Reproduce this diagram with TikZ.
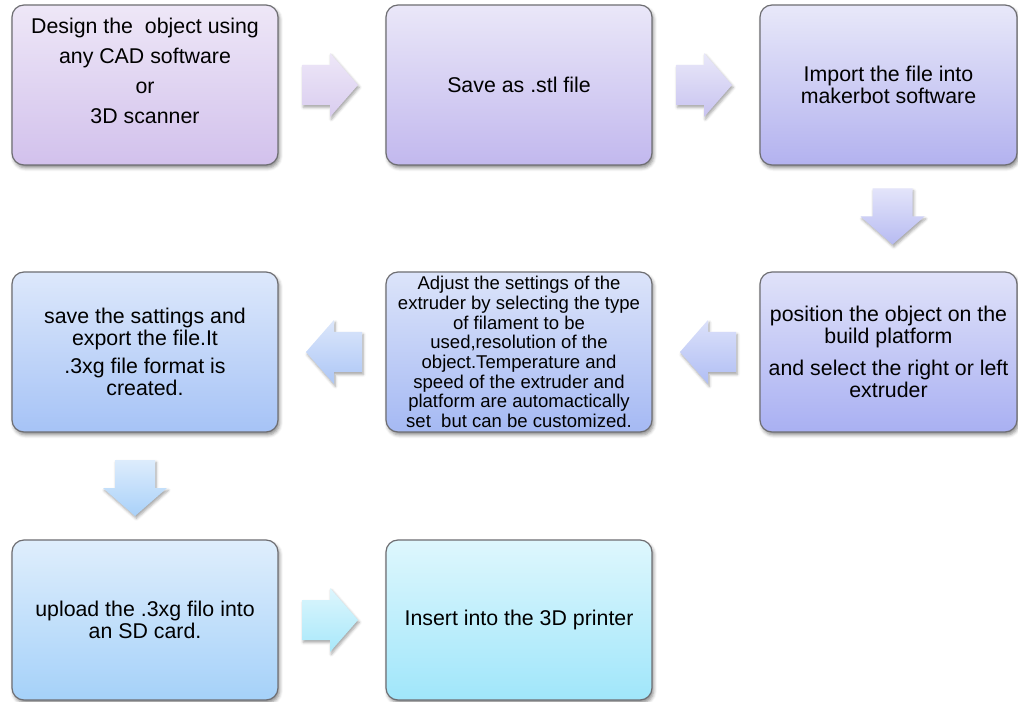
\documentclass[tikz,border=0pt]{standalone}
\usepackage{fontspec}
\setmainfont{Liberation Sans}
\usetikzlibrary{shadows.blur,calc}
\definecolor{boxline}{HTML}{6E6E72}
\definecolor{c1t}{HTML}{EEE7F7}\definecolor{c1b}{HTML}{D2C1EC}
\definecolor{c2t}{HTML}{EAE7F8}\definecolor{c2b}{HTML}{C2B8EE}
\definecolor{c3t}{HTML}{E8E8F9}\definecolor{c3b}{HTML}{B3B2EF}
\definecolor{c6t}{HTML}{E0E2F9}\definecolor{c6b}{HTML}{A9B0F2}
\definecolor{c5t}{HTML}{DCE4FA}\definecolor{c5b}{HTML}{A5B9F3}
\definecolor{c4t}{HTML}{DDE8FB}\definecolor{c4b}{HTML}{A6C3F6}
\definecolor{c7t}{HTML}{DFEEFC}\definecolor{c7b}{HTML}{A5D1F9}
\definecolor{c8t}{HTML}{DEF7FD}\definecolor{c8b}{HTML}{A0E6FA}
\definecolor{a1t}{HTML}{EEE7F8}\definecolor{a1b}{HTML}{D9CDEF}
\definecolor{a2t}{HTML}{E9E8F9}\definecolor{a2b}{HTML}{C8C3F0}
\definecolor{a3t}{HTML}{E3E4FA}\definecolor{a3b}{HTML}{B7BBF2}
\definecolor{a4t}{HTML}{DCE1FA}\definecolor{a4b}{HTML}{B0BEF4}
\definecolor{a5t}{HTML}{DCE7FB}\definecolor{a5b}{HTML}{ADC7F6}
\definecolor{a6t}{HTML}{DDECFC}\definecolor{a6b}{HTML}{A9D1F9}
\definecolor{a7t}{HTML}{DDF6FD}\definecolor{a7b}{HTML}{A8E8FA}
\begin{document}
\begin{tikzpicture}[x=0.75pt,y=-0.75pt,
  box/.style={rounded corners=9pt, draw=boxline, line width=0.9pt,
    minimum width=199.5pt, minimum height=120pt, inner sep=2pt,
    align=center, font=\fontsize{16}{16.5}\selectfont, shading=axis,
    blur shadow={shadow xshift=1.2pt,shadow yshift=-2.2pt,shadow blur radius=2.5pt,shadow opacity=45}},
  narrowbox/.style={box, minimum width=192.75pt},
  txt/.style={align=center, inner sep=0pt},
  blockarrow/.style={shading=axis,
    blur shadow={shadow xshift=1pt,shadow yshift=-1.8pt,shadow blur radius=2pt,shadow opacity=35}}]
\useasboundingbox (0,0) rectangle (1018,702);

% row 1
\node[box, top color=c1t, bottom color=c1b] (b1) at (145,85) {};
\node[txt, font=\fontsize{16}{22.5}\selectfont] (t1) at (145,71)
  {Design the~ object using\\any CAD software\\or\\3D scanner};
\node[box, top color=c2t, bottom color=c2b] (b2) at (519,85) {Save as .stl file};
\node[narrowbox, top color=c3t, bottom color=c3b] (b3) at (888.5,85)
  {Import the file into\\makerbot software};

% row 2
\node[narrowbox, top color=c6t, bottom color=c6b] (b6) at (888.5,352)
  {position the object on the\\build platform\\[7pt]and select the right or left\\extruder};
\node[box, top color=c5t, bottom color=c5b, font=\fontsize{13.9}{14.8}\selectfont] (b5) at (519,352)
  {Adjust the settings of the\\extruder by selecting the type\\of filament to be\\used,resolution of the\\object.Temperature and\\speed of the extruder and\\platform are automactically\\set~ but can be customized.};
\node[box, top color=c4t, bottom color=c4b] (b4) at (145,352)
  {save the sattings and\\export the file.It\\[5pt].3xg file format is\\created.};

% row 3
\node[box, top color=c7t, bottom color=c7b] (b7) at (145,620)
  {upload the .3xg filo into\\an SD card.};
\node[box, top color=c8t, bottom color=c8b] (b8) at (519,620)
  {Insert into the 3D printer};

% arrow anchor points
\coordinate (a12) at ($(b1.east)!0.5!(b2.west)+(-2,0)$);
\coordinate (a23) at ($(b2.east)!0.5!(b3.west)+(-2,0)$);
\coordinate (a36) at ($(b3.south)!0.5!(b6.north)+(4,-2)$);
\coordinate (a65) at ($(b6.west)!0.5!(b5.east)+(2,0)$);
\coordinate (a54) at ($(b5.west)!0.5!(b4.east)+(2,0)$);
\coordinate (a47) at ($(b4.south)!0.5!(b7.north)+(-10,2)$);
\coordinate (a78) at ($(b7.east)!0.5!(b8.west)+(-2,0)$);

% right arrows
\path[blockarrow, top color=a1t, bottom color=a1b]
  ([shift={(-28,-20)}]a12) -- ++(28,0) -- ++(0,-12) -- ++(28,32) -- ++(-28,32) -- ++(0,-12) -- ++(-28,0) -- cycle;
\path[blockarrow, top color=a2t, bottom color=a2b]
  ([shift={(-28,-20)}]a23) -- ++(28,0) -- ++(0,-12) -- ++(28,32) -- ++(-28,32) -- ++(0,-12) -- ++(-28,0) -- cycle;
\path[blockarrow, top color=a7t, bottom color=a7b]
  ([shift={(-28,-20)}]a78) -- ++(28,0) -- ++(0,-12) -- ++(28,32) -- ++(-28,32) -- ++(0,-12) -- ++(-28,0) -- cycle;
% left arrows
\path[blockarrow, top color=a4t, bottom color=a4b]
  ([shift={(28,-20)}]a65) -- ++(-28,0) -- ++(0,-12) -- ++(-28,32) -- ++(28,32) -- ++(0,-12) -- ++(28,0) -- cycle;
\path[blockarrow, top color=a5t, bottom color=a5b]
  ([shift={(28,-20)}]a54) -- ++(-28,0) -- ++(0,-12) -- ++(-28,32) -- ++(28,32) -- ++(0,-12) -- ++(28,0) -- cycle;
% down arrows
\path[blockarrow, top color=a3t, bottom color=a3b]
  ([shift={(-20,-28)}]a36) -- ++(40,0) -- ++(0,28) -- ++(12,0) -- ++(-32,28) -- ++(-32,-28) -- ++(12,0) -- cycle;
\path[blockarrow, top color=a6t, bottom color=a6b]
  ([shift={(-20,-28)}]a47) -- ++(40,0) -- ++(0,28) -- ++(12,0) -- ++(-32,28) -- ++(-32,-28) -- ++(12,0) -- cycle;
\end{tikzpicture}
\end{document}
